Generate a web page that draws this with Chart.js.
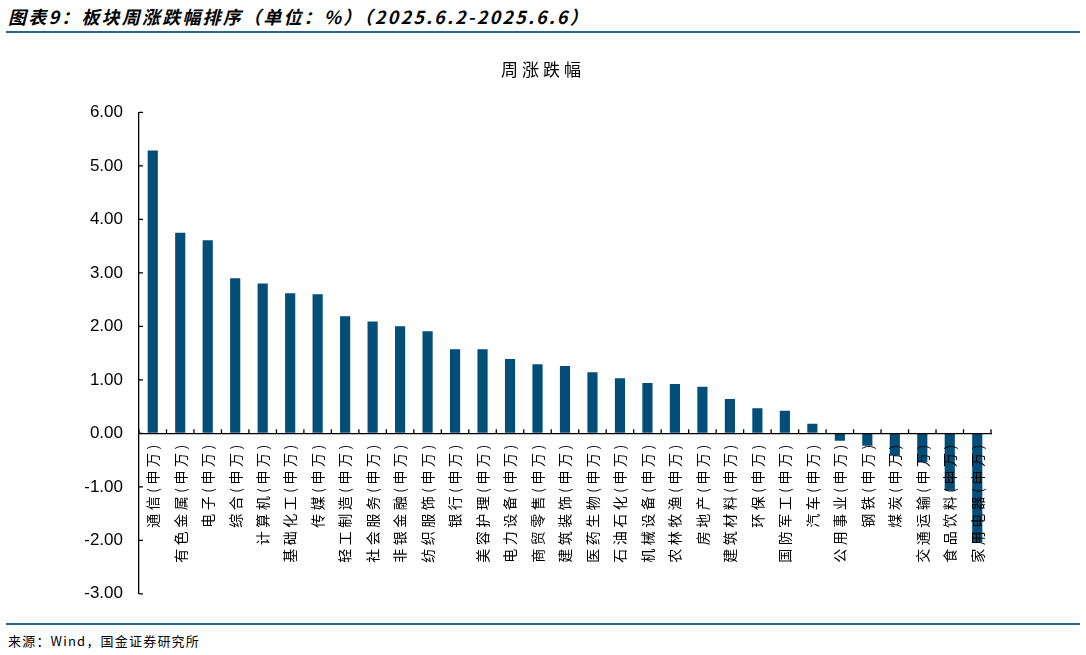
<!DOCTYPE html>
<html>
<head>
<meta charset="utf-8">
<script src="https://cdn.jsdelivr.net/npm/chart.js@4"></script>
<style>
    body { margin: 0; width: 1086px; height: 655px; background: #fff; position: relative; overflow: hidden; font-family: "Noto Sans CJK SC", sans-serif; }
    .head { position: absolute; left: 8px; top: 3px; font-size: 18px; font-weight: bold; font-style: italic; letter-spacing: 2.2px; color: #000; white-space: nowrap; }
    .rule { position: absolute; left: 6px; right: 6px; height: 2px; background: #2a6591; }
    .box { position: absolute; left: 0; top: 40px; width: 1086px; height: 580px; }
    .foot { position: absolute; left: 8px; top: 631px; font-size: 13px; letter-spacing: 1.2px; color: #000; white-space: nowrap; }
</style>
</head>
<body>
<div class="head">图表9：板块周涨跌幅排序（单位：%）（2025.6.2-2025.6.6）</div>
<div class="rule" style="top:31px"></div>
<div class="box"><canvas id="chart"></canvas></div>
<div class="rule" style="top:623px"></div>
<div class="foot">来源：Wind，国金证券研究所</div>
<script>
// sector names (Shenwan level 1), sorted by weekly change
const categories = ['通信(申万)', '有色金属(申万)', '电子(申万)', '综合(申万)', '计算机(申万)', '基础化工(申万)',
    '传媒(申万)', '轻工制造(申万)', '社会服务(申万)', '非银金融(申万)', '纺织服饰(申万)', '银行(申万)',
    '美容护理(申万)', '电力设备(申万)', '商贸零售(申万)', '建筑装饰(申万)', '医药生物(申万)', '石油石化(申万)',
    '机械设备(申万)', '农林牧渔(申万)', '房地产(申万)', '建筑材料(申万)', '环保(申万)', '国防军工(申万)',
    '汽车(申万)', '公用事业(申万)', '钢铁(申万)', '煤炭(申万)', '交通运输(申万)', '食品饮料(申万)', '家用电器(申万)'];

// weekly change, %
const weeklyChange = [5.29, 3.75, 3.61, 2.90, 2.80, 2.62, 2.60, 2.19, 2.09, 2.00, 1.91, 1.57,
    1.57, 1.39, 1.29, 1.26, 1.14, 1.03, 0.94, 0.92, 0.87, 0.64, 0.47, 0.42,
    0.18, -0.14, -0.23, -0.42, -0.54, -1.07, -2.04];

const seriesName = '周涨跌幅';
const yMin = -3, yMax = 6, yStep = 1;

Chart.defaults.font.family = '"Noto Sans CJK SC", sans-serif';
Chart.defaults.color = '#000';

// wrap a draw method so its text gets some letter spacing
const spaced = (obj, fn, gap) => {
    if (!obj || obj['_sp_' + fn]) return;
    const orig = obj[fn];
    obj[fn] = function (...args) {
        const c = this.ctx;
        c.save();
        c.letterSpacing = gap;
        orig.apply(this, args);
        c.restore();
    };
    obj['_sp_' + fn] = true;
};

// tick marks pointing into the plot, like the original
const innerTicks = {
    id: 'innerTicks',
    afterLayout(chart) {
        spaced(chart.scales.x, 'drawLabels', '3.5px');
        spaced(chart.titleBlock, 'draw', '4px');
    },
    afterDraw(chart) {
        const { ctx, scales: { x, y } } = chart;
        const y0 = y.getPixelForValue(0);
        ctx.save();
        ctx.strokeStyle = '#000';
        ctx.lineWidth = 1.3;
        ctx.beginPath();
        for (let k = 0; k <= categories.length; k++) {
            const px = x.getPixelForValue(k - 0.5);
            ctx.moveTo(px, y0);
            ctx.lineTo(px, y0 - 4);
        }
        y.ticks.forEach(t => {
            const py = y.getPixelForValue(t.value);
            ctx.moveTo(y.right, py);
            ctx.lineTo(y.right + 4, py);
        });
        ctx.stroke();
        ctx.restore();
    }
};

new Chart(document.getElementById('chart'), {
    type: 'bar',
    data: {
        labels: categories,
        datasets: [{
            label: seriesName,
            data: weeklyChange,
            backgroundColor: '#034e79',
            barPercentage: 0.37,
            categoryPercentage: 1
        }]
    },
    options: {
        responsive: true,
        maintainAspectRatio: false,
        animation: false,
        layout: { padding: { left: 0, right: 0, top: 0, bottom: 25 } },
        plugins: {
            legend: { display: false },
            tooltip: { enabled: false },
            title: {
                display: true,
                text: seriesName,
                font: { size: 17, weight: 'normal' },
                padding: { top: 19, bottom: 33 }
            }
        },
        scales: {
            x: {
                position: { y: 0 },
                grid: { display: true, drawOnChartArea: false, drawTicks: false, offset: true },
                border: { color: '#000', width: 1.3, z: 1 },
                // labels sit on top of the negative bars
                ticks: { z: 1, minRotation: 90, maxRotation: 90, autoSkip: false, padding: 8, font: { size: 14 } }
            },
            y: {
                min: yMin,
                max: yMax,
                afterFit(scale) { scale.width = 139; },
                grid: { drawOnChartArea: false, drawTicks: false },
                border: { color: '#000', width: 1.3 },
                ticks: {
                    stepSize: yStep,
                    padding: 16,
                    font: { family: '"Liberation Sans", Arial, sans-serif', size: 17 },
                    callback: v => v.toFixed(2)
                }
            },
            // empty right-hand space, keeps the title centred on the page
            pad: {
                type: 'linear',
                position: 'right',
                afterFit(scale) { scale.width = 95; },
                grid: { display: false },
                border: { display: false },
                ticks: { display: false }
            }
        }
    },
    plugins: [innerTicks]
});
</script>
</body>
</html>
